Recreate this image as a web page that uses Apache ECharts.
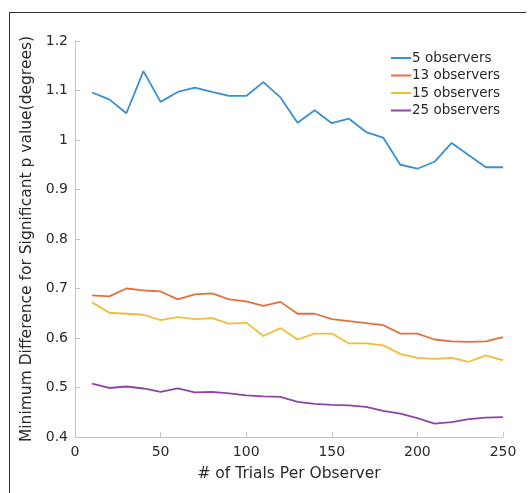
<!DOCTYPE html>
<html>
<head>
<meta charset="utf-8">
<script src="https://cdn.jsdelivr.net/npm/echarts@6/dist/echarts.min.js"></script>
<style>
  html, body { margin: 0; padding: 0; background: #fff; }
  #wrap { position: relative; width: 528px; height: 493px; }
  #frame { position: absolute; left: 9px; top: 12px; right: 2px; bottom: 0;
           border-top: 1px solid #333; border-left: 1px solid #333; }
  #chart { position: absolute; left: 0; top: 0; width: 528px; height: 493px; }
</style>
</head>
<body>
<div id="wrap">
  <div id="frame"></div>
  <div id="chart"></div>
</div>
<script>
// trials per observer (x)
var trials = [10, 20, 30, 40, 50, 60, 70, 80, 90, 100, 110, 120, 130,
              140, 150, 160, 170, 180, 190, 200, 210, 220, 230, 240, 250];
var seriesNames = ["5 observers", "13 observers", "15 observers", "25 observers"];
var obs5 = [1.096, 1.082, 1.054, 1.139, 1.077, 1.097, 1.106, 1.097, 1.089, 1.089,
            1.117, 1.086, 1.035, 1.060, 1.034, 1.043, 1.016, 1.005, 0.950, 0.942,
            0.956, 0.994, 0.969, 0.945, 0.945];
var obs13 = [0.686, 0.684, 0.700, 0.696, 0.694, 0.678, 0.688, 0.690, 0.678, 0.674,
             0.665, 0.673, 0.649, 0.649, 0.638, 0.634, 0.630, 0.626, 0.609, 0.609,
             0.597, 0.593, 0.592, 0.593, 0.602];
var obs15 = [0.672, 0.651, 0.649, 0.647, 0.636, 0.642, 0.638, 0.640, 0.629, 0.631,
             0.604, 0.620, 0.597, 0.609, 0.609, 0.589, 0.589, 0.585, 0.568, 0.560,
             0.558, 0.560, 0.552, 0.565, 0.555];
var obs25 = [0.508, 0.499, 0.502, 0.498, 0.491, 0.498, 0.490, 0.491, 0.488, 0.484,
             0.482, 0.481, 0.471, 0.467, 0.465, 0.464, 0.461, 0.453, 0.447, 0.438,
             0.427, 0.430, 0.436, 0.439, 0.440];
var colors = ["#3a8fd3", "#e2713f", "#f0bc3a", "#8e44a3"];

function pairs(ys) {
  return trials.map(function (t, i) { return [t, ys[i]]; });
}

var chart = echarts.init(document.getElementById("chart"));
var font = "DejaVu Sans, Verdana, sans-serif";
var allData = [obs5, obs13, obs15, obs25];

var option = {
  animation: false,
  color: colors,
  grid: { left: 75, right: 25, top: 41, bottom: 56, containLabel: false },
  legend: {
    orient: "vertical",
    left: 386,
    top: 46,
    itemWidth: 20,
    itemHeight: 14,
    itemGap: 3.5,
    icon: "path://M0,6 L20,6 L20,8 L0,8 Z",
    textStyle: { fontFamily: font, fontSize: 13.5, color: "#2a2a2a", padding: [0, 0, 0, -4] },
    data: seriesNames
  },
  xAxis: {
    type: "value",
    min: 0,
    max: 250,
    interval: 50,
    name: "# of Trials Per Observer",
    nameLocation: "middle",
    nameGap: 29,
    nameTextStyle: { fontFamily: font, fontSize: 15.5, color: "#2a2a2a" },
    axisLine: { lineStyle: { color: "#c4c4c4", width: 1 } },
    axisTick: { inside: true, length: 5, lineStyle: { color: "#c4c4c4" } },
    axisLabel: { fontFamily: font, fontSize: 14, color: "#2a2a2a", margin: 8 },
    splitLine: { show: false }
  },
  yAxis: {
    type: "value",
    min: 0.4,
    max: 1.2,
    interval: 0.1,
    name: "Minimum Difference for Significant p value(degrees)",
    nameLocation: "middle",
    nameGap: 40,
    nameTextStyle: { fontFamily: font, fontSize: 15.5, color: "#2a2a2a" },
    axisLine: { show: true, lineStyle: { color: "#c4c4c4", width: 1 } },
    axisTick: { show: true, inside: true, length: 5, lineStyle: { color: "#c4c4c4" } },
    axisLabel: { fontFamily: font, fontSize: 14, color: "#2a2a2a", margin: 7 },
    splitLine: { show: false }
  },
  series: seriesNames.map(function (n, i) {
    return {
      name: n,
      type: "line",
      data: pairs(allData[i]),
      symbol: "none",
      lineStyle: { width: 1.8, color: colors[i] },
      itemStyle: { color: colors[i] }
    };
  })
};
chart.setOption(option);
</script>
</body>
</html>
